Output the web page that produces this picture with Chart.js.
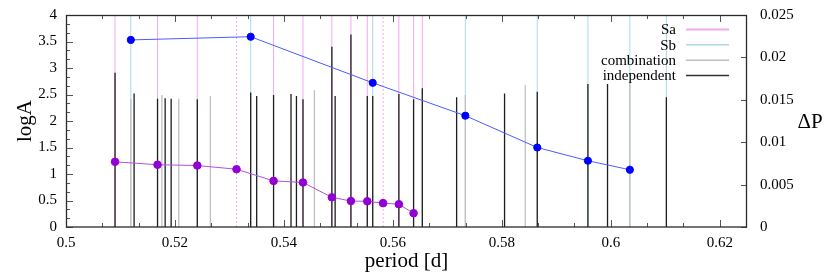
<!DOCTYPE html>
<html><head><meta charset="utf-8">
<script src="https://cdn.jsdelivr.net/npm/chart.js@4.4.1/dist/chart.umd.min.js"></script>
<style>html,body{margin:0;padding:0;background:#fff;}#wrap{width:830px;height:277px;position:relative;}</style>
</head><body>
<div id="wrap"><canvas id="c" width="830" height="277"></canvas></div>
<script>
// ---- tick labels ----
const xTicks = [0.5, 0.52, 0.54, 0.56, 0.58, 0.6, 0.62];
const yTicks = [0, 0.5, 1, 1.5, 2, 2.5, 3, 3.5, 4];
const y2Ticks = [0, 0.005, 0.01, 0.015, 0.02, 0.025];

// ---- Sa / Sb marker positions (periods, d) ----
const saPeriods = [0.5090, 0.5168, 0.5241, 0.5381, 0.5435, 0.5488, 0.5523, 0.5553, 0.5611, 0.5638, 0.5654];
const saMissingPeriods = [0.5313, 0.5582];
const sbPeriods = [0.5119, 0.5339, 0.5563, 0.5733, 0.5865, 0.5958, 0.6035, 0.6102];
const markerTop = [4];

// ---- independent frequencies ----
const indepPeriods = [0.5090, 0.5125, 0.5168, 0.5182, 0.5193, 0.5241, 0.5339, 0.5350, 0.5381, 0.5413,
  0.5423, 0.5435, 0.5488, 0.5494, 0.5523, 0.5553, 0.5563, 0.5611, 0.5638, 0.5654,
  0.5717, 0.5805, 0.5865, 0.5958, 0.5994, 0.6102];
const indepLogA = [2.91, 2.52, 2.42, 2.43, 2.42, 2.41, 2.54, 2.47, 2.49, 2.51,
  2.47, 2.41, 3.40, 2.47, 3.63, 2.47, 2.47, 2.51, 2.41, 2.62,
  2.45, 2.52, 2.55, 2.70, 2.70, 2.45];

// ---- combination frequencies ----
const combPeriods = [0.5119, 0.5176, 0.5207, 0.5265, 0.5456, 0.5733, 0.5843, 0.6035];
const combLogA = [2.41, 2.49, 2.42, 2.47, 2.58, 2.49, 2.68, 2.73];

// ---- Sa sequence ----
const saSeqPeriods = [0.5090, 0.5168, 0.5241, 0.5313, 0.5381, 0.5435, 0.5488, 0.5523, 0.5553, 0.5582, 0.5611, 0.5638];
const saSeqLogA = [1.23, 1.175, 1.16, 1.09, 0.87, 0.84, 0.56, 0.49, 0.485, 0.45, 0.43, 0.26];

// ---- Sb sequence ----
const sbSeqPeriods = [0.5119, 0.5339, 0.5563, 0.5733, 0.5865, 0.5958, 0.6035];
const sbSeqLogA = [3.53, 3.59, 2.72, 2.10, 1.50, 1.25, 1.08];

const SERIF = '"Liberation Serif", "DejaVu Serif", serif';
const C_SA = '#f2aaf2', C_SB = '#add8e6', C_COMB = '#c0c0c0', C_IND = '#1e1e1e';

function sticks(periods, tops) {
  const out = [];
  periods.forEach((p, i) => {
    const t = tops.length === 1 ? tops[0] : tops[i];
    out.push({x: p, y: 0}, {x: p, y: t}, {x: p, y: null});
  });
  return out;
}
function pts(xs, ys) { return xs.map((x, i) => ({x, y: ys[i]})); }

const stickBase = {pointRadius: 0, pointHoverRadius: 0, borderWidth: 1, tension: 0, spanGaps: false, fill: false};

const legendItems = [
  {label: 'Sa', color: C_SA, width: 2},
  {label: 'Sb', color: C_SB, width: 1.5},
  {label: 'combination', color: C_COMB, width: 1.5},
  {label: 'independent', color: '#333', width: 1.5}
];

const deco = {
  id: 'deco',
  afterDraw(chart) {
    const ctx = chart.ctx, a = chart.chartArea;
    const sx = chart.scales.x, sy = chart.scales.y, sy2 = chart.scales.y2;
    ctx.save();
    ctx.strokeStyle = '#555'; ctx.lineWidth = 1;
    const MAJ = 7, MIN = 4;
    const line = (x1, y1, x2, y2) => { ctx.beginPath(); ctx.moveTo(x1, y1); ctx.lineTo(x2, y2); ctx.stroke(); };
    const xStep = xTicks[1] - xTicks[0];
    xTicks.forEach(v => {
      const px = Math.round(sx.getPixelForValue(v)) + 0.5;
      line(px, a.bottom, px, a.bottom - MAJ); line(px, a.top, px, a.top + MAJ);
      for (let k = 1; k < 3; k++) {
        const mv = v + k * xStep / 3;
        if (mv < sx.max) {
          const mx = Math.round(sx.getPixelForValue(mv)) + 0.5;
          line(mx, a.bottom, mx, a.bottom - MIN); line(mx, a.top, mx, a.top + MIN);
        }
      }
    });
    const yStep = yTicks[1] - yTicks[0];
    yTicks.forEach(v => {
      const py = Math.round(sy.getPixelForValue(v)) + 0.5;
      line(a.left, py, a.left + MAJ, py);
      for (let k = 1; k < 3; k++) {
        const mv = v + k * yStep / 3;
        if (mv < sy.max) {
          const my = Math.round(sy.getPixelForValue(mv)) + 0.5;
          line(a.left, my, a.left + MIN, my);
        }
      }
    });
    y2Ticks.forEach(v => {
      const py = Math.round(sy2.getPixelForValue(v)) + 0.5;
      line(a.right, py, a.right - MAJ + 1, py);
    });
    ctx.strokeStyle = '#2a2a2a'; ctx.lineWidth = 1.3;
    ctx.strokeRect(Math.round(a.left) + 0.5, Math.round(a.top) + 0.5, Math.round(a.right - a.left) - 1, Math.round(a.bottom - a.top) - 0.5);
    ctx.font = '15px ' + SERIF; ctx.fillStyle = '#000';
    ctx.textAlign = 'right'; ctx.textBaseline = 'middle';
    const rows = [29.5, 44.8, 60.2, 75.5];
    legendItems.forEach((it, i) => {
      ctx.fillText(it.label, 676, rows[i] + 1);
      ctx.strokeStyle = it.color; ctx.lineWidth = it.width;
      line(686, rows[i], 729, rows[i]);
    });
    ctx.font = '21px ' + SERIF; ctx.textAlign = 'center'; ctx.textBaseline = 'middle';
    ctx.fillText('period [d]', (a.left + a.right) / 2, 261);
    ctx.fillText('\u0394P', 810, 122);
    ctx.save(); ctx.translate(25, (a.top + a.bottom) / 2); ctx.rotate(-Math.PI / 2);
    ctx.fillText('logA', 0, 0); ctx.restore();
    ctx.restore();
  }
};

const fmt = v => String(Number(v.toFixed(4)));
const vFit = w => s => { s.width = w; s.paddingTop = 0; s.paddingBottom = 0; };

new Chart(document.getElementById('c'), {
  type: 'line',
  data: {
    datasets: [
      Object.assign({label: 'Sa', data: sticks(saPeriods, markerTop), borderColor: C_SA, order: 10}, stickBase),
      Object.assign({label: 'Sa missing', data: sticks(saMissingPeriods, markerTop), borderColor: C_SA, borderDash: [2, 2], order: 10}, stickBase),
      Object.assign({label: 'Sb', data: sticks(sbPeriods, markerTop), borderColor: C_SB, order: 9}, stickBase),
      Object.assign({label: 'combination', data: sticks(combPeriods, combLogA), borderColor: C_COMB, order: 8}, stickBase, {borderWidth: 1.3}),
      Object.assign({label: 'independent', data: sticks(indepPeriods, indepLogA), borderColor: C_IND, order: 7}, stickBase, {borderWidth: 1.3}),
      {label: 'Sa sequence', data: pts(saSeqPeriods, saSeqLogA), borderColor: '#b050e0', backgroundColor: '#9400d3',
        pointBackgroundColor: '#9400d3', pointBorderColor: '#9400d3', pointRadius: 3.8, borderWidth: 1, tension: 0, order: 2},
      {label: 'Sb sequence', data: pts(sbSeqPeriods, sbSeqLogA), borderColor: '#4a5cff', backgroundColor: '#0000ff',
        pointBackgroundColor: '#0000ff', pointBorderColor: '#0000ff', pointRadius: 3.6, borderWidth: 1, tension: 0, order: 1}
    ]
  },
  options: {
    responsive: false, animation: false, devicePixelRatio: 1,
    layout: {padding: {top: 15, left: 0, right: 0, bottom: 0}},
    plugins: {legend: {display: false}, tooltip: {enabled: false}},
    scales: {
      x: {
        type: 'linear', position: 'bottom', min: 0.5, max: 0.625,
        afterBuildTicks: s => { s.ticks = xTicks.map(v => ({value: v})); },
        afterFit: s => { s.height = 50; s.paddingLeft = 0; s.paddingRight = 0; },
        grid: {display: false, drawTicks: false}, border: {display: false},
        ticks: {font: {family: SERIF, size: 15}, color: '#000', padding: 7, maxRotation: 0, autoSkip: false, callback: v => fmt(v)}
      },
      y: {
        type: 'linear', position: 'left', min: 0, max: 4,
        afterBuildTicks: s => { s.ticks = yTicks.map(v => ({value: v})); },
        afterFit: vFit(66),
        grid: {display: false, drawTicks: false}, border: {display: false},
        ticks: {font: {family: SERIF, size: 15}, color: '#000', padding: 9, autoSkip: false, callback: v => fmt(v)}
      },
      y2: {
        type: 'linear', position: 'right', min: 0, max: 0.025,
        afterBuildTicks: s => { s.ticks = y2Ticks.map(v => ({value: v})); },
        afterFit: vFit(83),
        grid: {display: false, drawTicks: false}, border: {display: false},
        ticks: {font: {family: SERIF, size: 15}, color: '#000', padding: 13, autoSkip: false, callback: v => fmt(v)}
      }
    }
  },
  plugins: [deco]
});
</script>
</body></html>
